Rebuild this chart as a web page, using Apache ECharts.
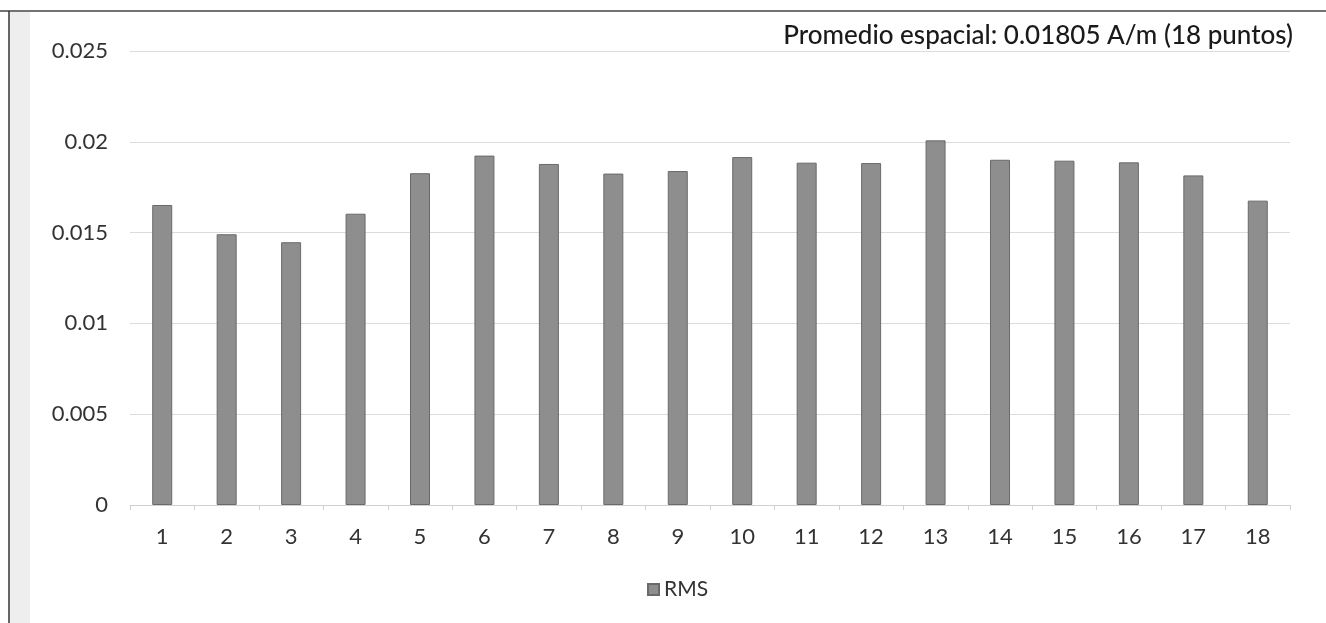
<!DOCTYPE html>
<html><head><meta charset="utf-8">
<script src="https://cdn.jsdelivr.net/npm/echarts@6/dist/echarts.min.js"></script>
<style>html,body{margin:0;padding:0;background:#fff}#c{width:1326px;height:623px}</style>
</head><body><div id="c"></div>
<script>
const categories = ['1','2','3','4','5','6','7','8','9','10','11','12','13','14','15','16','17','18'];
const rmsValues = [0.01652,0.01491,0.01447,0.01604,0.01827,0.01924,0.01878,0.01825,0.01839,0.01916,0.01885,0.01883,0.02008,0.01901,0.01896,0.01887,0.01815,0.01676];
const seriesName = 'RMS';
const titleText = 'Promedio espacial: 0.01805 A/m (18 puntos)';
const yTicks = [0, 0.005, 0.01, 0.015, 0.02, 0.025];

const chart = echarts.init(document.getElementById('c'));
const font = "'Lato', 'Noto Sans', sans-serif";
chart.setOption({
  animation: false,
  backgroundColor: '#fff',
  textStyle: { fontFamily: font },
  title: {
    text: titleText, right: 28, top: 18,
    textStyle: { fontFamily: font, fontSize: 26, fontWeight: 500, color: '#1a1a1a' }
  },
  legend: {
    data: [seriesName], top: 574, left: 642,
    itemWidth: 11, itemHeight: 11, itemGap: 4,
    icon: 'rect',
    textStyle: { fontFamily: font, fontSize: 21, color: '#333' }
  },
  grid: { left: 130, right: 36, top: 51, bottom: 118 },
  xAxis: {
    type: 'category', data: categories,
    axisLine: { lineStyle: { color: '#d0d0d0' } },
    axisTick: { show: true, alignWithLabel: false, length: 5, lineStyle: { color: '#d0d0d0' } },
    axisLabel: { fontSize: 22, color: '#333', margin: 21, fontFamily: font }
  },
  yAxis: {
    type: 'value', min: 0, max: yTicks[yTicks.length - 1], interval: 0.005,
    axisLine: { show: false }, axisTick: { show: false },
    splitLine: { lineStyle: { color: '#dcdcdc', width: 1 } },
    axisLabel: { fontSize: 22, color: '#333', margin: 22, fontFamily: font,
      formatter: v => String(+v.toFixed(3)) }
  },
  series: [{
    name: seriesName, type: 'bar', data: rmsValues, barWidth: 20,
    itemStyle: { color: '#8e8e8e', borderColor: '#6a6a6a', borderWidth: 1 }
  }],
  graphic: [
    { type: 'line', shape: { x1: 0, y1: 11, x2: 1326, y2: 11 }, style: { stroke: '#444', lineWidth: 1.5 } },
    { type: 'line', shape: { x1: 9, y1: 11, x2: 9, y2: 623 }, style: { stroke: '#333', lineWidth: 1.5 } },
    { type: 'rect', shape: { x: 10, y: 12, width: 20, height: 611 }, style: { fill: '#eeeeee' } }
  ]
});
</script></body></html>
